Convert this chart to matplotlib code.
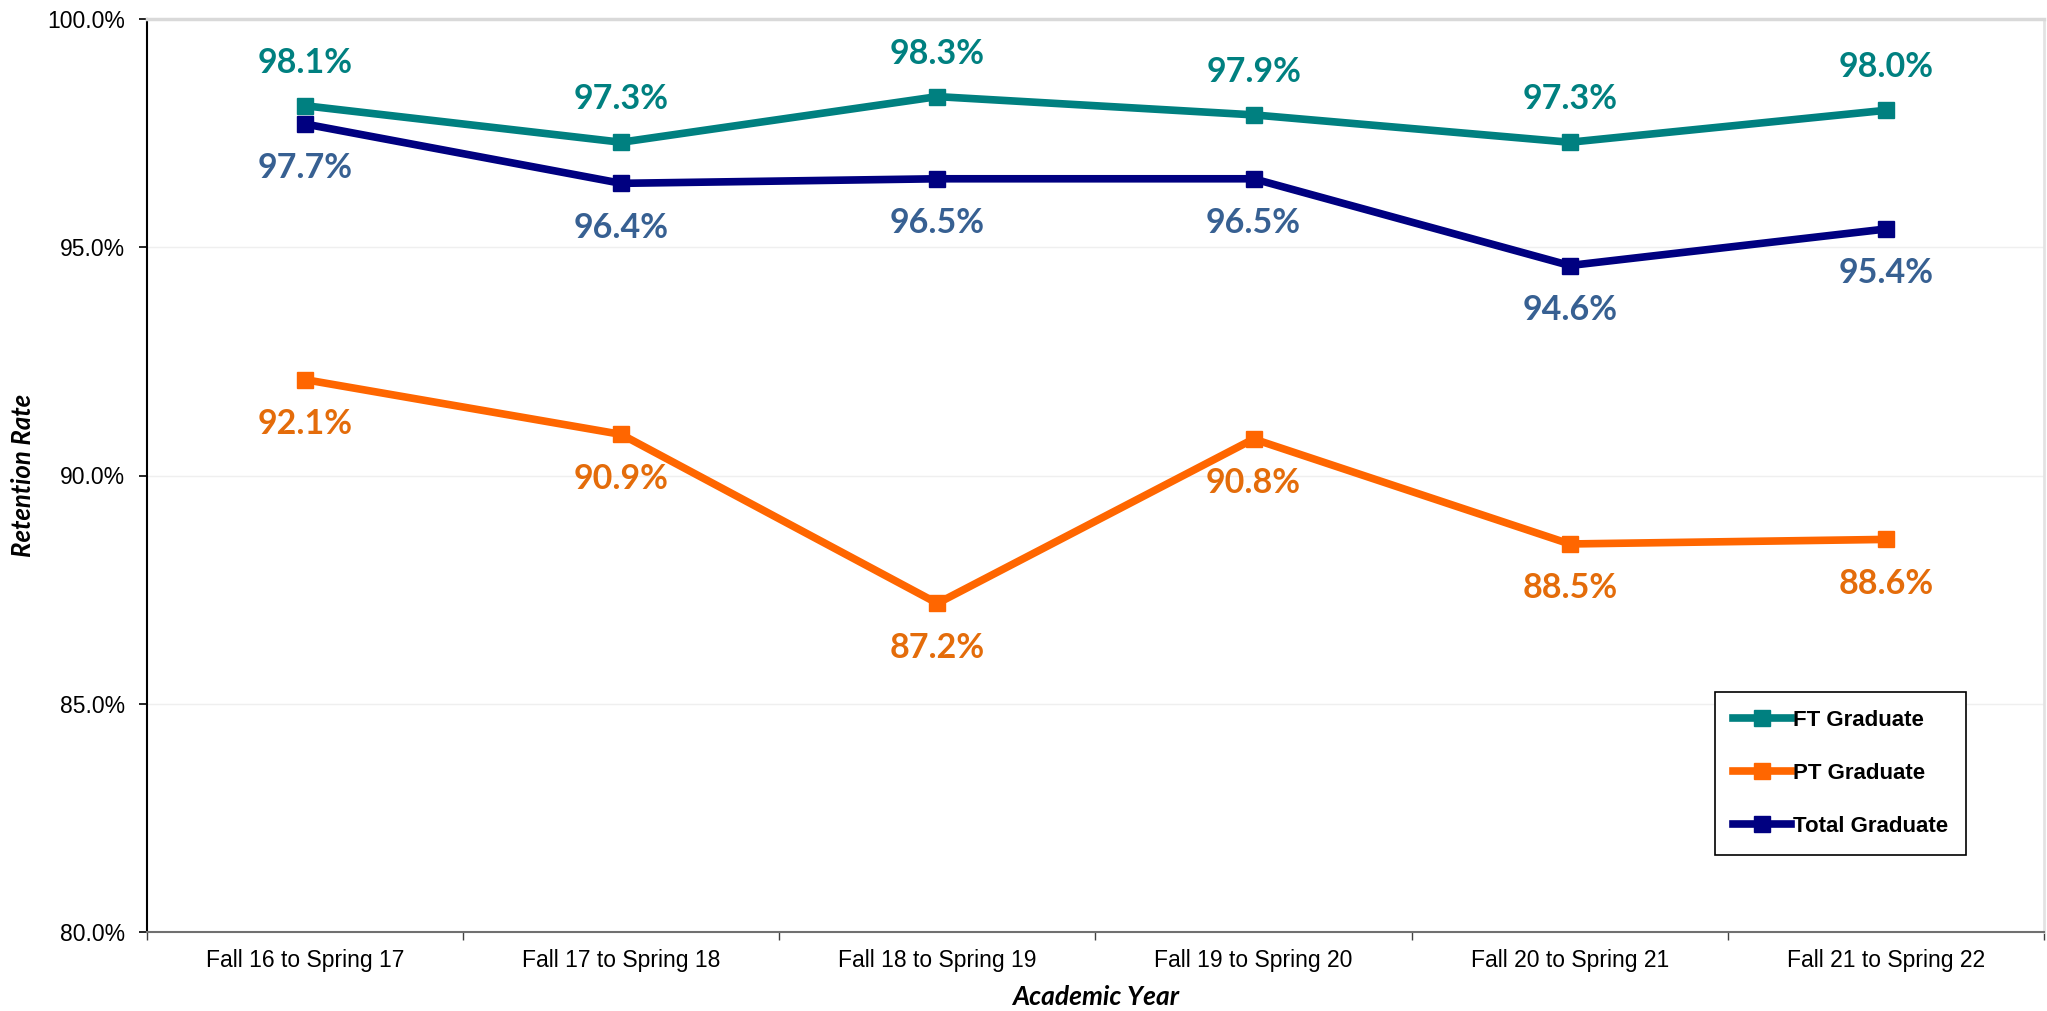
import numpy as np
import matplotlib
matplotlib.use('Agg')
from matplotlib import pyplot as plt
from matplotlib.ticker import FuncFormatter, FixedLocator

# data
years = ['Fall 16 to Spring 17', 'Fall 17 to Spring 18', 'Fall 18 to Spring 19',
         'Fall 19 to Spring 20', 'Fall 20 to Spring 21', 'Fall 21 to Spring 22']
ft_grad = [98.1, 97.3, 98.3, 97.9, 97.3, 98.0]
pt_grad = [92.1, 90.9, 87.2, 90.8, 88.5, 88.6]
total_grad = [97.7, 96.4, 96.5, 96.5, 94.6, 95.4]

plt.rcParams['font.family'] = 'Liberation Sans'

fig = plt.figure(figsize=(20.47, 10.11), dpi=100)
ax = fig.add_axes([147/2047, 1 - 932/1011, 1897/2047, 913/1011])

x = np.arange(len(years))

series = [
    ('FT Graduate', ft_grad, '#008080', '#008080', 31),
    ('PT Graduate', pt_grad, '#FF6600', '#E46C0A', -32),
    ('Total Graduate', total_grad, '#000080', '#376092', -32),
]

for name, vals, col, lab_col, off in series:
    ax.plot(x, vals, color=col, lw=5.5, marker='s', markersize=11,
            label=name, zorder=3)
    for xi, v in zip(x, vals):
        ax.annotate(f'{v:.1f}%', (xi, v), xytext=(0, off), textcoords='offset points',
                    ha='center', va='center', color=lab_col, fontsize=24.5,
                    fontweight='bold', family='Lato')

ax.set_xlim(-0.5, len(years) - 0.5)
ax.set_ylim(80, 100)
ax.set_yticks([80, 85, 90, 95, 100])
ax.yaxis.set_major_formatter(FuncFormatter(lambda v, p: f'{v:.1f}%'))
ax.set_xticks(x)
ax.set_xticklabels(years)
ax.xaxis.set_minor_locator(FixedLocator(np.arange(-0.5, len(years), 1.0)))

ax.tick_params(axis='x', which='major', length=0, pad=12, labelsize=16.5)
ax.tick_params(axis='x', which='minor', length=6, width=1, color='#404040')
ax.tick_params(axis='y', length=6, width=1.2, pad=10, labelsize=16.5)

ax.grid(axis='y', color='#EFEFEF', lw=1, zorder=0)
ax.set_axisbelow(True)

ax.spines['top'].set_color('#D9D9D9')
ax.spines['top'].set_linewidth(2.5)
ax.spines['right'].set_color('#E3E3E3')
ax.spines['right'].set_linewidth(2)
ax.spines['bottom'].set_color('#707070')
ax.spines['bottom'].set_linewidth(1.5)
ax.spines['left'].set_color('black')
ax.spines['left'].set_linewidth(1.5)

ax.set_xlabel('Academic Year', fontsize=19, fontweight='bold', style='italic', family='Lato')
ax.set_ylabel('Retention Rate', fontsize=18.5, fontweight='bold', style='italic', family='Lato')
ax.xaxis.set_label_coords(0.5, (932 - 997) / 913)
ax.xaxis.label.set_va('center')
ax.yaxis.set_label_coords((23 - 147) / 1897, 0.5)
ax.yaxis.label.set_va('center')

leg = ax.legend(loc='upper left', bbox_to_anchor=(1715/2047, 1 - 692/1011),
                bbox_transform=fig.transFigure, borderaxespad=0, numpoints=1,
                prop={'family': 'Liberation Sans', 'weight': 'bold', 'size': 16},
                handlelength=2.6, handletextpad=0.1, labelspacing=1.45,
                borderpad=0.8, fancybox=False, framealpha=1, edgecolor='black')
leg.get_frame().set_linewidth(1.2)

fig.savefig('out.png', dpi=100)
